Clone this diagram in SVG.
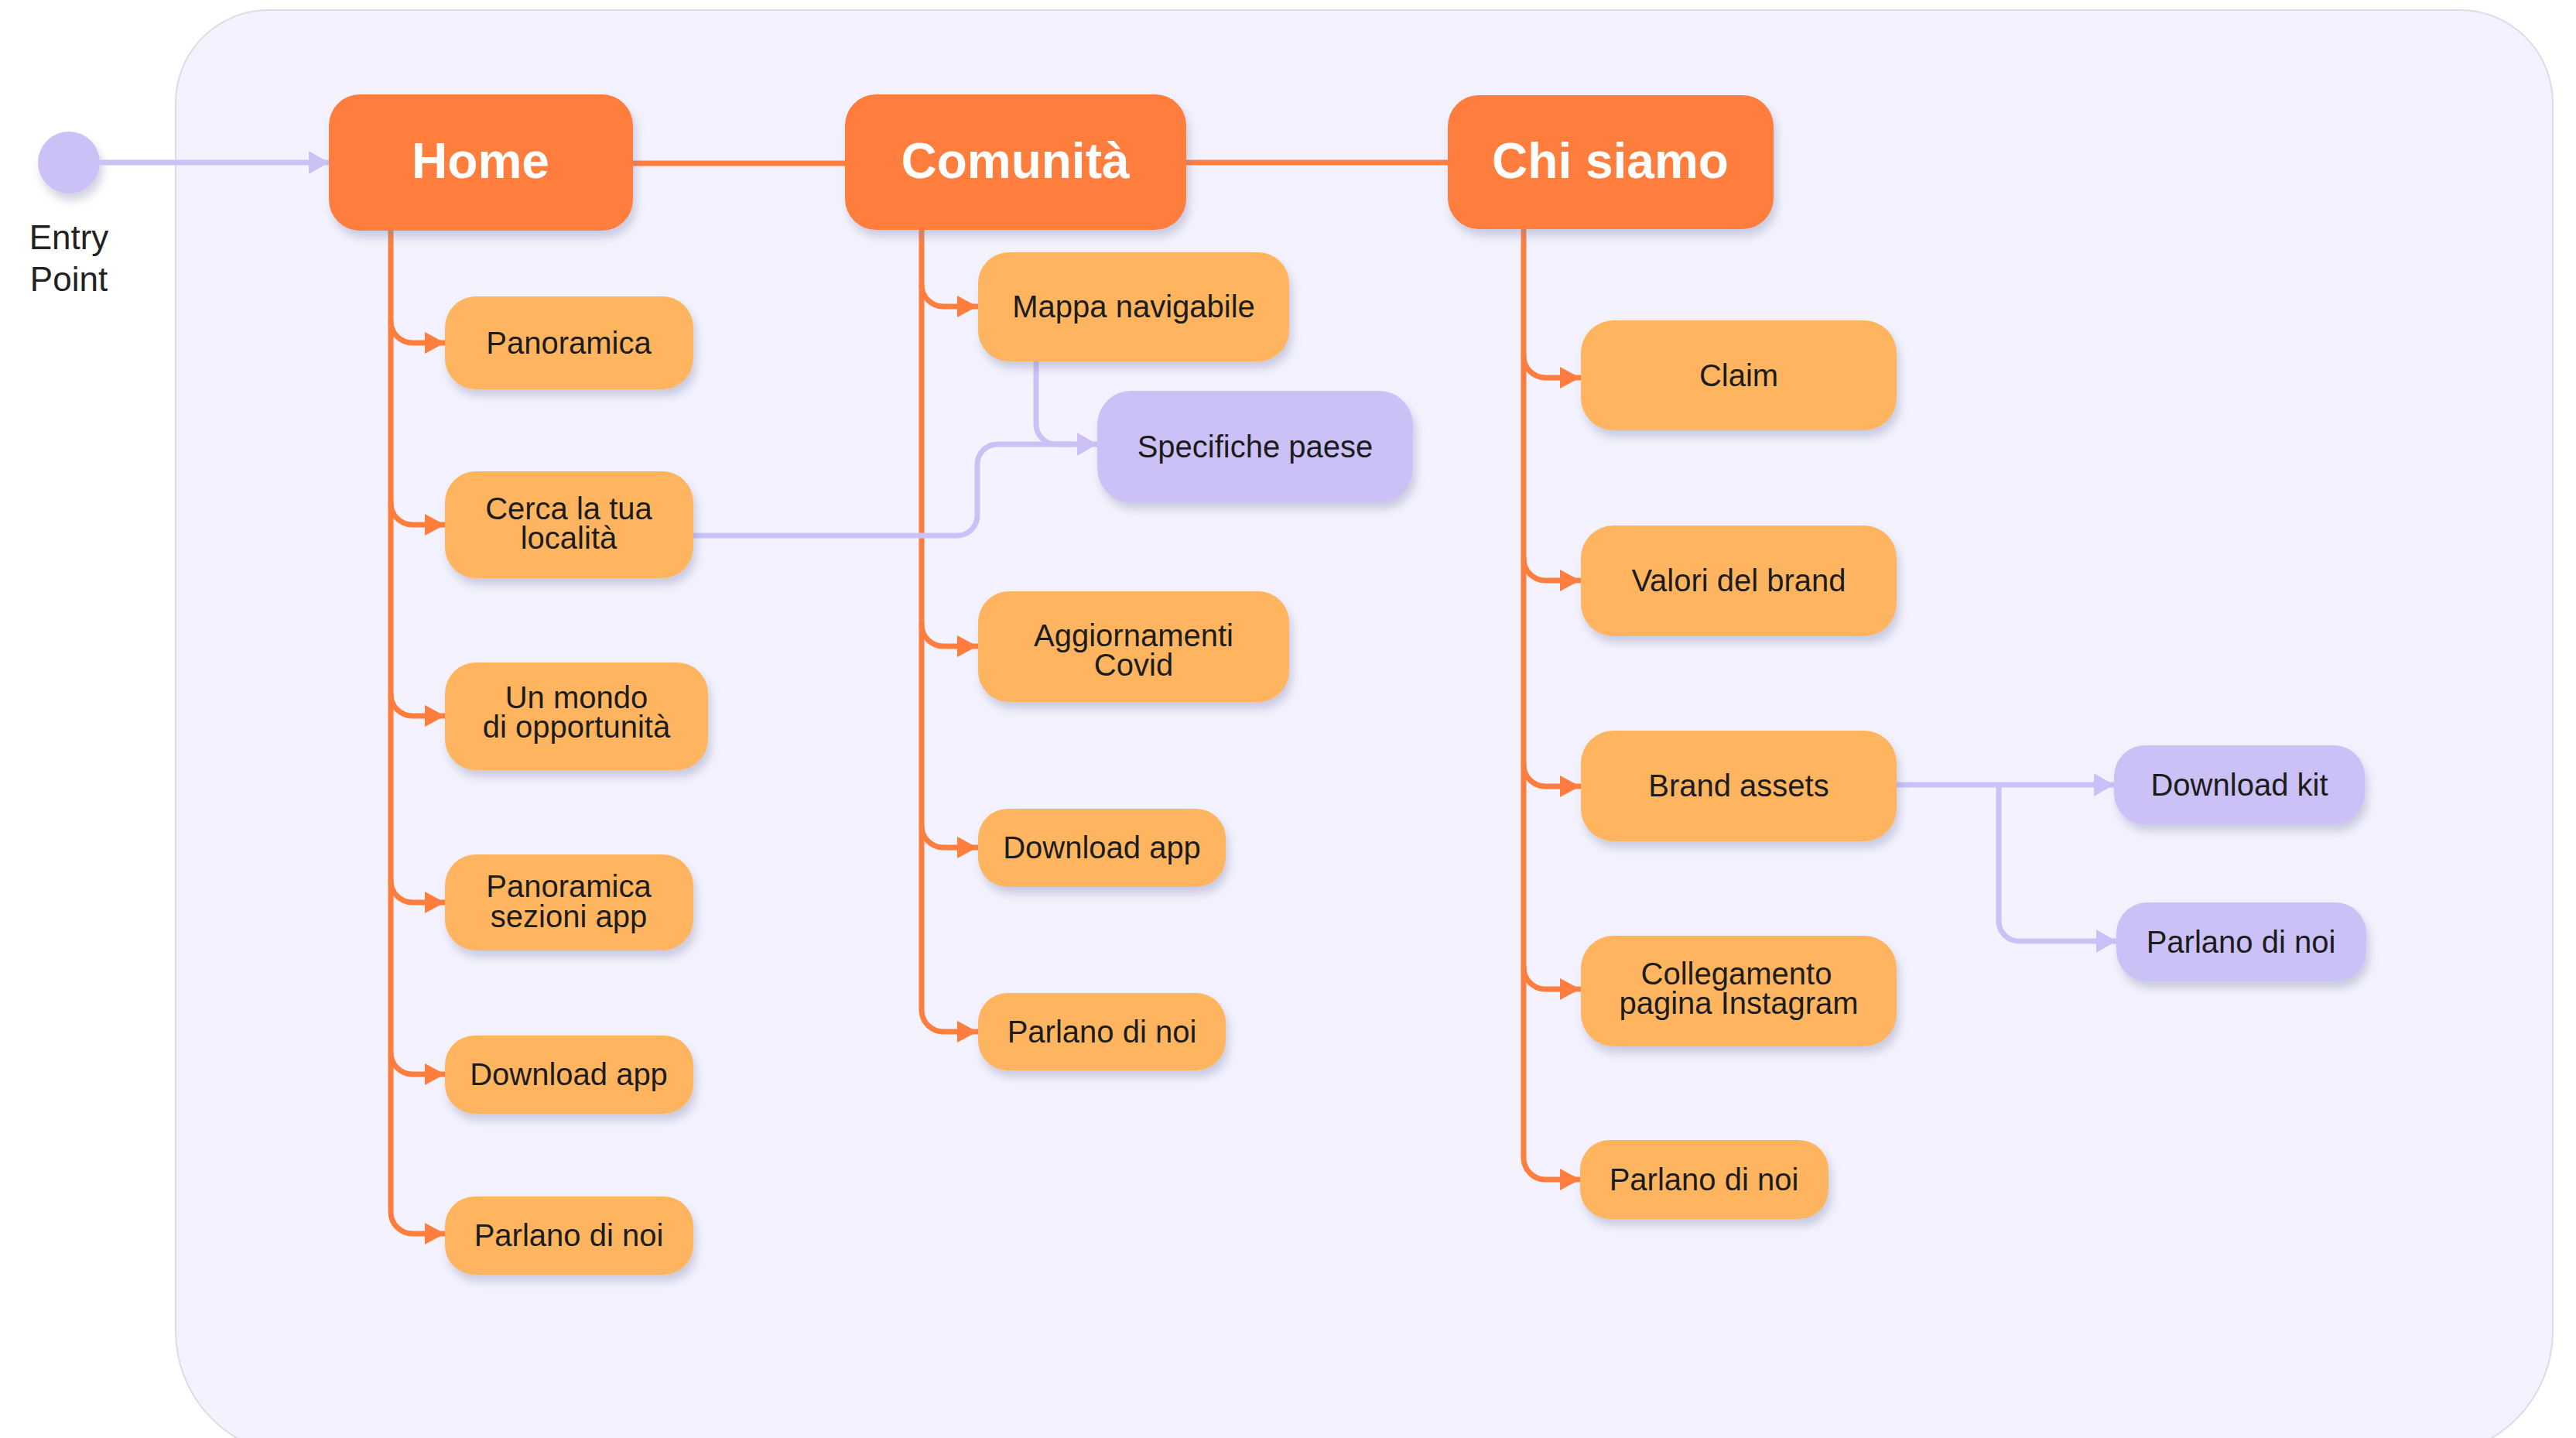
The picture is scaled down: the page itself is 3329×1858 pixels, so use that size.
<svg xmlns="http://www.w3.org/2000/svg" width="3329" height="1858" viewBox="0 0 3329 1858">
<style>
.main{fill:#FF7E3E}
.sub{fill:#FFB55E}
.pur{fill:#CBC1F6}
.mt{font-family:"Liberation Sans",Arial,sans-serif;font-weight:700;font-size:64px;fill:#ffffff;text-anchor:middle}
.st{font-family:"Liberation Sans",Arial,sans-serif;font-size:40px;fill:#1c1c1c;text-anchor:middle}
.or{fill:none;stroke:#FF7E3E;stroke-width:7;stroke-linecap:round;stroke-linejoin:round}
.pl{fill:none;stroke:#CBC1F6;stroke-width:7;stroke-linejoin:round}
</style>
<defs>
<filter id="sh" x="-20%" y="-20%" width="140%" height="160%">
<feDropShadow dx="4" dy="9" stdDeviation="6" flood-color="#7d82a8" flood-opacity="0.35"/>
</filter>
<marker id="ao" markerUnits="userSpaceOnUse" markerWidth="26" markerHeight="28" refX="26" refY="14" orient="auto">
<path d="M0,0 L26,14 L0,28 z" fill="#FF7E3E"/>
</marker>
<marker id="ap" markerUnits="userSpaceOnUse" markerWidth="26" markerHeight="30" refX="26" refY="15" orient="auto">
<path d="M0,0 L26,15 L0,30 z" fill="#CBC1F6"/>
</marker>
</defs>
<rect width="3329" height="1858" fill="#ffffff"/>
<path d="M347,13 L3179,13 A120,120 0 0 1 3299,133 L3299,1720 A160,160 0 0 1 3139,1880 L387,1880 A160,160 0 0 1 227,1720 L227,133 A120,120 0 0 1 347,13 Z" fill="#F3F2FE" stroke="#DCDCE6" stroke-width="2"/>

<g id="entry">
<circle cx="89" cy="210" r="40" class="pur" filter="url(#sh)"/>
<text x="89" y="322" font-family="Liberation Sans,Arial,sans-serif" font-size="44" fill="#222" text-anchor="middle">Entry</text>
<text x="89" y="376" font-family="Liberation Sans,Arial,sans-serif" font-size="44" fill="#222" text-anchor="middle">Point</text>
</g>

<g id="connectors">
<path class="pl" d="M129,210 L425,210" marker-end="url(#ap)" stroke-width="9"/>
<path class="or" d="M818,211 L1092,211"/>
<path class="or" d="M1533,210 L1871,210"/>
<path class="or" d="M505,298 L505,1566 A28,28 0 0 0 533,1594 L575,1594" marker-end="url(#ao)"/>
<path class="or" d="M505,415 A28,28 0 0 0 533,443 L575,443" marker-end="url(#ao)"/>
<path class="or" d="M505,650 A28,28 0 0 0 533,678 L575,678" marker-end="url(#ao)"/>
<path class="or" d="M505,897 A28,28 0 0 0 533,925 L575,925" marker-end="url(#ao)"/>
<path class="or" d="M505,1138 A28,28 0 0 0 533,1166 L575,1166" marker-end="url(#ao)"/>
<path class="or" d="M505,1360 A28,28 0 0 0 533,1388 L575,1388" marker-end="url(#ao)"/>
<path class="or" d="M1191,297 L1191,1305 A28,28 0 0 0 1219,1333 L1263,1333" marker-end="url(#ao)"/>
<path class="or" d="M1191,368 A28,28 0 0 0 1219,396 L1263,396" marker-end="url(#ao)"/>
<path class="or" d="M1191,807 A28,28 0 0 0 1219,835 L1263,835" marker-end="url(#ao)"/>
<path class="or" d="M1191,1067 A28,28 0 0 0 1219,1095 L1263,1095" marker-end="url(#ao)"/>
<path class="or" d="M1969,296 L1969,1496 A28,28 0 0 0 1997,1524 L2042,1524" marker-end="url(#ao)"/>
<path class="or" d="M1969,460 A28,28 0 0 0 1997,488 L2042,488" marker-end="url(#ao)"/>
<path class="or" d="M1969,722 A28,28 0 0 0 1997,750 L2042,750" marker-end="url(#ao)"/>
<path class="or" d="M1969,988 A28,28 0 0 0 1997,1016 L2042,1016" marker-end="url(#ao)"/>
<path class="or" d="M1969,1250 A28,28 0 0 0 1997,1278 L2042,1278" marker-end="url(#ao)"/>
<path class="pl" d="M896,692 L1237,692 A26,26 0 0 0 1263,666 L1263,600 A26,26 0 0 1 1289,574 L1390,574"/>
<path class="pl" d="M1339,467 L1339,548 A26,26 0 0 0 1365,574 L1418,574" marker-end="url(#ap)"/>
<path class="pl" d="M2451,1014 L2732,1014" marker-end="url(#ap)"/>
<path class="pl" d="M2583,1014 L2583,1190 A26,26 0 0 0 2609,1216 L2735,1216" marker-end="url(#ap)"/>
</g>

<g id="home"><rect x="425" y="122" width="393" height="176" rx="40" class="main" filter="url(#sh)"/><text x="621" y="230" class="mt">Home</text></g>
<g id="comunita"><rect x="1092" y="122" width="441" height="175" rx="40" class="main" filter="url(#sh)"/><text x="1312" y="230" class="mt">Comunità</text></g>
<g id="chisiamo"><rect x="1871" y="123" width="421" height="173" rx="40" class="main" filter="url(#sh)"/><text x="2081" y="230" class="mt">Chi siamo</text></g>

<g id="h-panoramica"><rect x="575" y="383" width="321" height="120" rx="40" class="sub" filter="url(#sh)"/><text x="735" y="457" class="st">Panoramica</text></g>
<g id="h-cerca"><rect x="575" y="609" width="321" height="138" rx="40" class="sub" filter="url(#sh)"/><text x="735" y="671" class="st">Cerca la tua</text><text x="735" y="709" class="st">località</text></g>
<g id="h-mondo"><rect x="575" y="856" width="340" height="139" rx="40" class="sub" filter="url(#sh)"/><text x="745" y="915" class="st">Un mondo</text><text x="745" y="953" class="st">di opportunità</text></g>
<g id="h-sezioni"><rect x="575" y="1104" width="321" height="124" rx="40" class="sub" filter="url(#sh)"/><text x="735" y="1159" class="st">Panoramica</text><text x="735" y="1198" class="st">sezioni app</text></g>
<g id="h-download"><rect x="575" y="1338" width="321" height="101" rx="38" class="sub" filter="url(#sh)"/><text x="735" y="1402" class="st">Download app</text></g>
<g id="h-parlano"><rect x="575" y="1546" width="321" height="101" rx="38" class="sub" filter="url(#sh)"/><text x="735" y="1610" class="st">Parlano di noi</text></g>

<g id="c-mappa"><rect x="1264" y="326" width="402" height="141" rx="40" class="sub" filter="url(#sh)"/><text x="1465" y="410" class="st">Mappa navigabile</text></g>
<g id="c-specifiche"><rect x="1418" y="505" width="408" height="144" rx="44" class="pur" filter="url(#sh)"/><text x="1622" y="591" class="st">Specifiche paese</text></g>
<g id="c-covid"><rect x="1264" y="764" width="402" height="143" rx="40" class="sub" filter="url(#sh)"/><text x="1465" y="835" class="st">Aggiornamenti</text><text x="1465" y="873" class="st">Covid</text></g>
<g id="c-download"><rect x="1264" y="1045" width="320" height="101" rx="38" class="sub" filter="url(#sh)"/><text x="1424" y="1109" class="st">Download app</text></g>
<g id="c-parlano"><rect x="1264" y="1283" width="320" height="100" rx="38" class="sub" filter="url(#sh)"/><text x="1424" y="1347" class="st">Parlano di noi</text></g>

<g id="s-claim"><rect x="2043" y="414" width="408" height="142" rx="42" class="sub" filter="url(#sh)"/><text x="2247" y="499" class="st">Claim</text></g>
<g id="s-valori"><rect x="2043" y="679" width="408" height="143" rx="42" class="sub" filter="url(#sh)"/><text x="2247" y="764" class="st">Valori del brand</text></g>
<g id="s-brand"><rect x="2043" y="944" width="408" height="143" rx="42" class="sub" filter="url(#sh)"/><text x="2247" y="1029" class="st">Brand assets</text></g>
<g id="s-instagram"><rect x="2043" y="1209" width="408" height="143" rx="42" class="sub" filter="url(#sh)"/><text x="2244" y="1272" class="st">Collegamento</text><text x="2247" y="1310" class="st">pagina Instagram</text></g>
<g id="s-parlano"><rect x="2042" y="1473" width="321" height="102" rx="38" class="sub" filter="url(#sh)"/><text x="2202" y="1538" class="st">Parlano di noi</text></g>

<g id="p-download"><rect x="2732" y="963" width="324" height="102" rx="40" class="pur" filter="url(#sh)"/><text x="2894" y="1028" class="st">Download kit</text></g>
<g id="p-parlano"><rect x="2735" y="1166" width="323" height="102" rx="40" class="pur" filter="url(#sh)"/><text x="2896" y="1231" class="st">Parlano di noi</text></g>
</svg>
